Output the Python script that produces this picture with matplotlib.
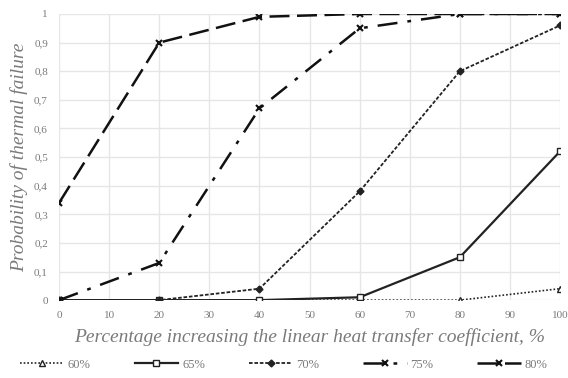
import matplotlib
matplotlib.use('Agg')
import matplotlib.pyplot as plt
from matplotlib.ticker import FuncFormatter

# Данные
x = [0, 20, 40, 60, 80, 100]
p60 = [0, 0, 0, 0, 0, 0.04]
p65 = [0, 0, 0, 0.01, 0.15, 0.52]
p70 = [0, 0, 0.04, 0.38, 0.80, 0.96]
p75 = [0, 0.13, 0.67, 0.95, 1.0, 1.0]
p80 = [0.34, 0.90, 0.99, 1.0, 1.0, 1.0]
labels = ['60%', '65%', '70%', '75%', '80%']

plt.rcParams['font.family'] = ['Liberation Serif', 'DejaVu Serif']
gray = '#7a7a7a'

fig = plt.figure(figsize=(5.68, 3.78), dpi=100)
ax = fig.add_axes([0.104, 0.206, 0.882, 0.757])

ax.plot(x, p60, color='#222', lw=1.2, ls=(0, (1, 1.2)), marker='^', ms=4,
        mfc='white', label=labels[0])
ax.plot(x, p65, color='#222', lw=1.6, ls='-', marker='s', ms=5,
        mfc='white', label=labels[1])
ax.plot(x, p70, color='#222', lw=1.3, ls=(0, (2, 1)), marker='D', ms=3.5,
        label=labels[2])
ax.plot(x, p75, color='#111', lw=1.8, ls=(0, (8, 4, 1.5, 4)), marker='x', ms=5,
        mew=1.5, label=labels[3])
ax.plot(x, p80, color='#111', lw=1.8, ls=(0, (8, 3)), marker='x', ms=5,
        mew=1.5, label=labels[4])

ax.set_xlim(0, 100)
ax.set_ylim(0, 1)
ax.set_xticks(range(0, 101, 10))
ax.set_yticks([i / 10 for i in range(11)])
ax.yaxis.set_major_formatter(FuncFormatter(
    lambda v, p: ('%.1f' % v).replace('.', ',') if 0 < v < 1 else '%d' % round(v)))
ax.grid(True, color='#e6e6e6', lw=1)
ax.set_axisbelow(True)
for s in ax.spines.values():
    s.set_visible(False)
ax.tick_params(length=0, labelsize=8, labelcolor=gray, pad=8)

ax.set_xlabel('Percentage increasing the linear heat transfer coefficient, %',
              fontsize=14, style='italic', color=gray, labelpad=6)
ax.set_ylabel('Probability of thermal failure', fontsize=14, style='italic',
              color=gray, labelpad=4)

fig.legend(loc='lower center', bbox_to_anchor=(0.5, -0.01), ncol=5,
           frameon=False, fontsize=9, labelcolor=gray, handlelength=3.5,
           columnspacing=3.5, handletextpad=0.3)

fig.savefig('out.png', dpi=100)
